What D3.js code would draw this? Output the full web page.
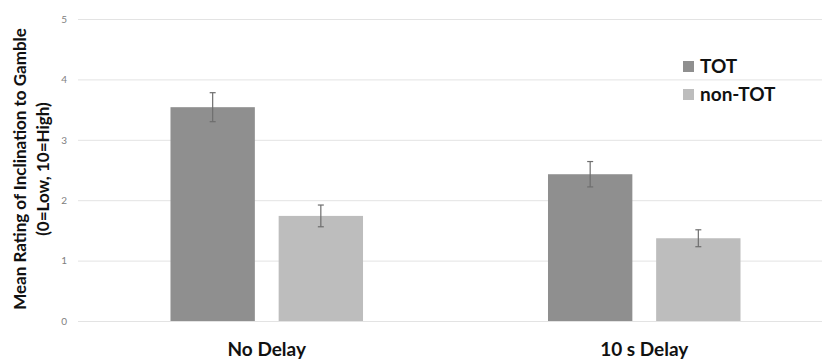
<!DOCTYPE html>
<html>
<head>
<meta charset="utf-8">
<script src="https://cdn.jsdelivr.net/npm/d3@7/dist/d3.min.js"></script>
<style>
html,body{margin:0;padding:0;background:#fff;}
svg{display:block;}
</style>
</head>
<body>
<svg id="chart" width="822" height="359"></svg>
<script>
const categories = ["No Delay", "10 s Delay"];
const seriesNames = ["TOT", "non-TOT"];
const totValues = [3.54, 2.43];
const totErrors = [0.24, 0.21];
const nonTotValues = [1.74, 1.37];
const nonTotErrors = [0.18, 0.14];
const yTicks = [0, 1, 2, 3, 4, 5];

const colors = {"TOT": "#8f8f8f", "non-TOT": "#bdbdbd"};
const series = [
  {name: "TOT", values: totValues, errors: totErrors},
  {name: "non-TOT", values: nonTotValues, errors: nonTotErrors}
];

const FONT = "Lato, 'Open Sans', sans-serif";
const svg = d3.select("#chart");
const W = 822;
const plotLeft = 78, plotRight = 833;
const y = d3.scaleLinear().domain([0, 5]).range([321, 19]);
const x0 = d3.scaleBand().domain(categories).range([plotLeft, plotRight])
  .paddingInner(0.49).paddingOuter(0.245);
const x1 = d3.scaleBand().domain(seriesNames).range([0, x0.bandwidth()]).paddingInner(0.22);

// gridlines + ticks
const yAxis = d3.axisLeft(y).tickValues(yTicks).tickFormat(d3.format("d"))
  .tickSize(-(W - plotLeft)).tickPadding(11);
const gy = svg.append("g").attr("transform", `translate(${plotLeft},0)`).call(yAxis);
gy.select(".domain").remove();
gy.selectAll(".tick line").attr("stroke", "#e3e3e3").attr("stroke-width", 1);
gy.selectAll(".tick text").attr("fill", "#808080").attr("font-size", 10).attr("font-family", FONT);

// bars
const groups = svg.append("g").selectAll("g").data(series).join("g");
groups.selectAll("rect").data(s => s.values.map((v, i) => ({name: s.name, cat: categories[i], v})))
  .join("rect")
  .attr("x", d => x0(d.cat) + x1(d.name))
  .attr("y", d => y(d.v))
  .attr("width", x1.bandwidth())
  .attr("height", d => y(0) - y(d.v))
  .attr("fill", d => colors[d.name]);

// error bars
const errData = [];
series.forEach(s => s.values.forEach((v, i) => errData.push({name: s.name, cat: categories[i], v, e: s.errors[i]})));
const eg = svg.append("g").attr("stroke", "#6e6e6e").attr("stroke-width", 1.2);
errData.forEach(d => {
  const cx = x0(d.cat) + x1(d.name) + x1.bandwidth() / 2;
  eg.append("line").attr("x1", cx).attr("x2", cx).attr("y1", y(d.v + d.e)).attr("y2", y(d.v - d.e));
  eg.append("line").attr("x1", cx - 3).attr("x2", cx + 3).attr("y1", y(d.v + d.e)).attr("y2", y(d.v + d.e));
  eg.append("line").attr("x1", cx - 3).attr("x2", cx + 3).attr("y1", y(d.v - d.e)).attr("y2", y(d.v - d.e));
});

// category labels
const xAxis = d3.axisBottom(x0).tickSize(0).tickPadding(0);
const gx = svg.append("g").attr("transform", `translate(0,342)`).call(xAxis);
gx.select(".domain").remove();
gx.selectAll(".tick text").attr("fill", "#111").attr("font-size", 19).attr("font-weight", "bold")
  .attr("font-family", FONT).attr("dy", "0.71em");

// y title
const yt = svg.append("text").attr("transform", "translate(26,169) rotate(-90)")
  .attr("text-anchor", "middle").attr("font-family", FONT)
  .attr("font-weight", "bold").attr("font-size", 17).attr("fill", "#111");
yt.append("tspan").attr("x", 0).attr("dy", 0).text("Mean Rating of Inclination to Gamble");
yt.append("tspan").attr("x", 0).attr("dy", 23).text("(0=Low, 10=High)");

// legend
const lg = svg.append("g");
seriesNames.forEach((n, i) => {
  const yy = 61 + i * 28;
  lg.append("rect").attr("x", 683).attr("y", yy).attr("width", 11).attr("height", 11).attr("fill", colors[n]);
  lg.append("text").attr("x", 700).attr("y", yy + 12).attr("font-family", FONT)
    .attr("font-weight", "bold").attr("font-size", 19).attr("fill", "#111").text(n);
});
</script>
</body>
</html>
